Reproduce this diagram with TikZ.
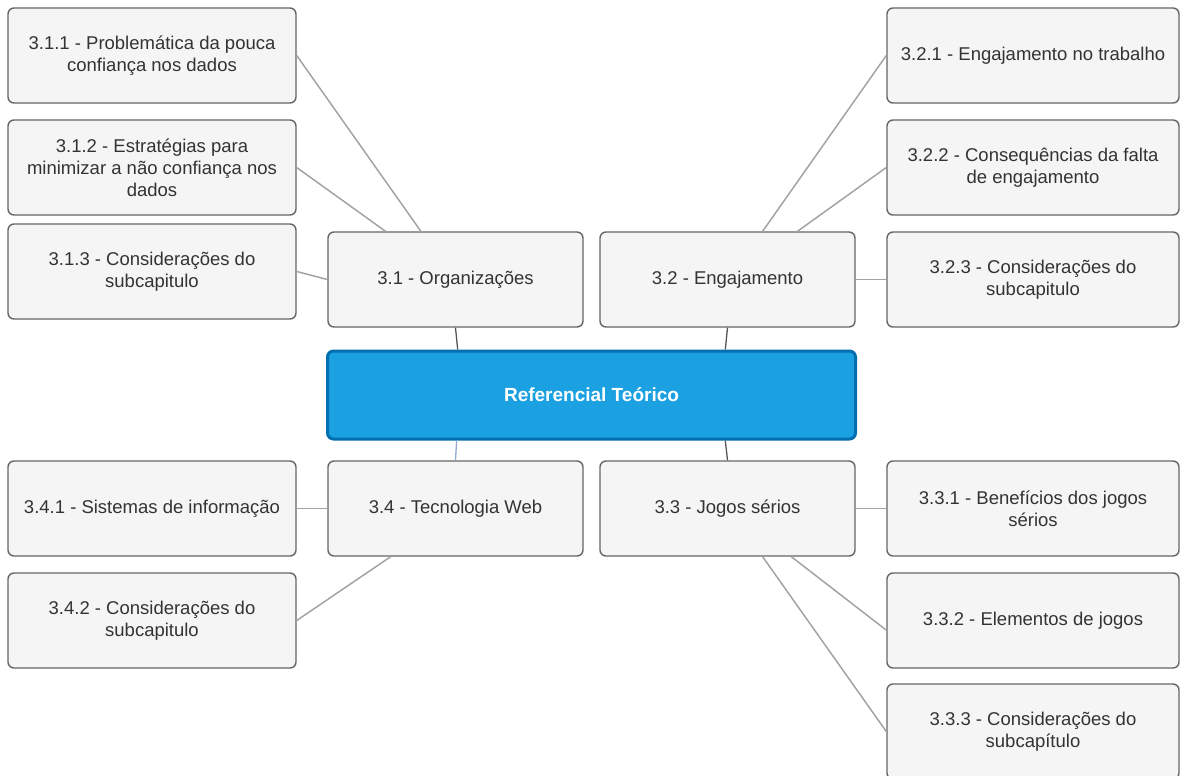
\documentclass[tikz,border=0pt]{standalone}
\usepackage{fontspec}
\setmainfont{Liberation Sans}
\usetikzlibrary{calc}
\definecolor{boxfill}{HTML}{F5F5F5}
\definecolor{boxline}{HTML}{666666}
\definecolor{txt}{HTML}{333333}
\definecolor{rootfill}{HTML}{1BA1E2}
\definecolor{rootline}{HTML}{006EAF}
\definecolor{leafline}{HTML}{A3A3A3}
\definecolor{stemline}{HTML}{555555}
\definecolor{stemblue}{HTML}{8FA9D3}
\begin{document}
\begin{tikzpicture}[x=1pt,y=-1pt,
  topic/.style={draw=boxline, fill=boxfill, line width=1.4pt, rounded corners=6pt,
    minimum width=255pt, minimum height=95pt, inner sep=0pt, align=center,
    text=txt, font=\fontsize{18.5}{22}\selectfont},
  leaf/.style={topic, minimum width=288pt},
  rleaf/.style={topic, minimum width=292pt},
  rootbox/.style={draw=rootline, fill=rootfill, line width=3pt, rounded corners=6pt,
    minimum width=528pt, minimum height=88pt, inner sep=0pt, text=white,
    font=\fontsize{19}{22}\selectfont\bfseries},
  conn/.style={draw=leafline, line width=1.5pt},
  stem/.style={draw=stemline, line width=1.3pt}]
\useasboundingbox (0,0) rectangle (1181,776);

% central topic
\node[rootbox] (root) at (591.5,395) {Referencial Teórico};

% main sections
\node[topic] (s31) at (455.5,279.5) {3.1 - Organizações};
\node[topic] (s32) at (727.5,279.5) {3.2 - Engajamento};
\node[topic] (s34) at (455.5,508.5) {3.4 - Tecnologia Web};
\node[topic] (s33) at (727.5,508.5) {3.3 - Jogos sérios};

% subsections of 3.1
\node[leaf] (c311) at (152,55.5) {3.1.1 - Problemática da pouca\\confiança nos dados};
\node[leaf] (c312) at (152,167.5) {3.1.2 - Estratégias para\\minimizar a não confiança nos\\dados};
\node[leaf] (c313) at (152,271.5) {3.1.3 - Considerações do\\subcapitulo};

% subsections of 3.2
\node[rleaf] (c321) at (1033,55.5) {3.2.1 - Engajamento no trabalho};
\node[rleaf] (c322) at (1033,167.5) {3.2.2 - Consequências da falta\\de engajamento};
\node[rleaf] (c323) at (1033,279.5) {3.2.3 - Considerações do\\subcapitulo};

% subsections of 3.4
\node[leaf] (c341) at (152,508.5) {3.4.1 - Sistemas de informação};
\node[leaf] (c342) at (152,620.5) {3.4.2 - Considerações do\\subcapitulo};

% subsections of 3.3
\node[rleaf] (c331) at (1033,508.5) {3.3.1 - Benefícios dos jogos\\sérios};
\node[rleaf] (c332) at (1033,620.5) {3.3.2 - Elementos de jogos};
\node[rleaf] (c333) at (1033,731.5) {3.3.3 - Considerações do\\subcapítulo};

% links from the central topic
\draw[stem] (s31.south) -- ($(root.north west)!0.248!(root.north east)$);
\draw[stem] (s32.south) -- ($(root.north west)!0.752!(root.north east)$);
\draw[stem, draw=stemblue] (s34.north) -- ($(root.south west)!0.246!(root.south east)$);
\draw[stem] (s33.north) -- ($(root.south west)!0.752!(root.south east)$);

% links to subsections
\draw[conn] (c311.east) -- ($(s31.north west)!0.365!(s31.north east)$);
\draw[conn] (c312.east) -- ($(s31.north west)!0.227!(s31.north east)$);
\draw[conn] (c313.east) -- (s31.west);
\draw[conn] ($(s32.north west)!0.637!(s32.north east)$) -- (c321.west);
\draw[conn] ($(s32.north west)!0.773!(s32.north east)$) -- (c322.west);
\draw[conn] (s32.east) -- (c323.west);
\draw[conn] (c341.east) -- (s34.west);
\draw[conn] (c342.east) -- ($(s34.south west)!0.247!(s34.south east)$);
\draw[conn] (s33.east) -- (c331.west);
\draw[conn] ($(s33.south west)!0.749!(s33.south east)$) -- ($(c332.north west)!0.6!(c332.south west)$);
\draw[conn] ($(s33.south west)!0.637!(s33.south east)$) -- (c333.west);
\end{tikzpicture}
\end{document}
